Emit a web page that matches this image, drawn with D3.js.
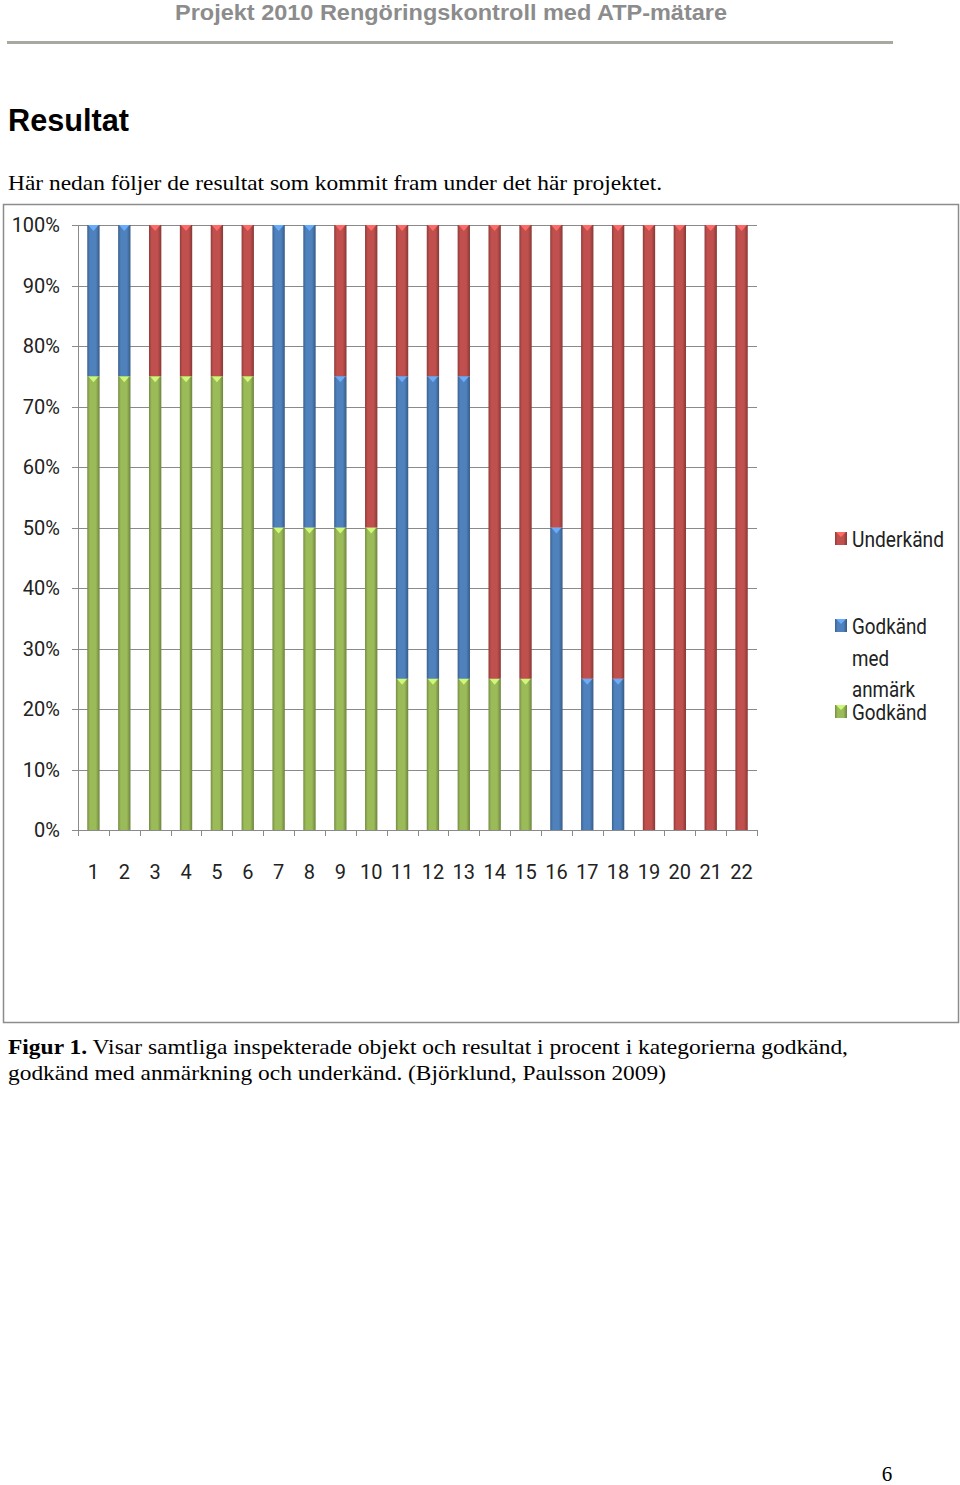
<!DOCTYPE html>
<html>
<head>
<meta charset="utf-8">
<script src="https://cdn.jsdelivr.net/npm/d3@7"></script>
<style>
  body { margin: 0; background: #fff; }
</style>
</head>
<body>
<svg id="page" width="960" height="1485"></svg>
<script>
// data (percent per object)
const objects = ["1","2","3","4","5","6","7","8","9","10","11","12","13","14","15","16","17","18","19","20","21","22"];
const godkand   = [75,75,75,75,75,75,50,50,50,50,25,25,25,25,25, 0, 0, 0, 0, 0, 0, 0];
const anmarkning = [25,25, 0, 0, 0, 0,50,50,25, 0,50,50,50, 0, 0,50,25,25, 0, 0, 0, 0];
const underkand = [ 0, 0,25,25,25,25, 0, 0,25,50,25,25,25,75,75,50,75,75,100,100,100,100];
const yTicks = [0,10,20,30,40,50,60,70,80,90,100];
const seriesColors = ["#9bbb59", "#4f81bd", "#c0504d"];

const svg = d3.select("#page");
const serif = "Liberation Serif, Times New Roman, serif";
const sans = "Liberation Sans, Arial, sans-serif";
const font = "Roboto, DejaVu Sans Condensed, sans-serif";

// text squeezed to the width it has in the scan
function fitText(sel, w) {
  return sel.attr("textLength", w).attr("lengthAdjust", "spacingAndGlyphs");
}

// page header
fitText(svg.append("text")
   .attr("x", 175).attr("y", 20)
   .attr("font-family", sans)
   .attr("font-weight", "bold")
   .attr("font-size", 22)
   .attr("fill", "#8c8c8c")
   .text("Projekt 2010 Rengöringskontroll med ATP-mätare"), 552);
svg.append("rect")
   .attr("x", 7).attr("y", 41).attr("width", 886).attr("height", 3)
   .attr("fill", "#a8a8a0");

fitText(svg.append("text")
   .attr("x", 8).attr("y", 131)
   .attr("font-family", sans)
   .attr("font-weight", "bold")
   .attr("font-size", 31)
   .text("Resultat"), 121);

fitText(svg.append("text")
   .attr("x", 8).attr("y", 190)
   .attr("font-family", serif)
   .attr("font-size", 22)
   .text("Här nedan följer de resultat som kommit fram under det här projektet."), 654);

// chart frame
svg.append("rect")
   .attr("x", 3.5).attr("y", 204.5).attr("width", 955).attr("height", 818)
   .attr("fill", "none").attr("stroke", "#8c8c8c").attr("stroke-width", 1.5);

// gradients for the bevelled bars
const defs = svg.append("defs");
seriesColors.forEach((c, i) => {
  let g = defs.append("linearGradient").attr("id", "grad" + i)
              .attr("x1", 0).attr("x2", 1).attr("y1", 0).attr("y2", 0);
  g.append("stop").attr("offset", "0%").attr("stop-color", d3.color(c).darker(0.8));
  g.append("stop").attr("offset", "22%").attr("stop-color", c);
  g.append("stop").attr("offset", "70%").attr("stop-color", c);
  g.append("stop").attr("offset", "100%").attr("stop-color", d3.color(c).darker(1));
});

const plotLeft = 78, plotRight = 757, plotTop = 225, plotBottom = 830;

const x = d3.scaleBand().domain(objects).range([plotLeft, plotRight])
            .paddingInner(0.6).paddingOuter(0.3);
const y = d3.scaleLinear().domain([0, 100]).range([plotBottom, plotTop]);
const step = x.step();

// gridlines
svg.append("g")
   .selectAll("line")
   .data(yTicks)
   .enter()
   .append("line")
   .attr("x1", plotLeft - 6).attr("x2", plotRight)
   .attr("y1", d => Math.round(y(d)) + 0.5)
   .attr("y2", d => Math.round(y(d)) + 0.5)
   .attr("stroke", "#8a8a8a").attr("stroke-width", 1);

svg.append("line")
   .attr("x1", plotLeft + 0.5).attr("x2", plotLeft + 0.5)
   .attr("y1", plotTop).attr("y2", plotBottom)
   .attr("stroke", "#8a8a8a");

// y labels
svg.append("g")
   .selectAll("text")
   .data(yTicks)
   .enter()
   .append("text")
   .attr("x", 60)
   .attr("y", d => y(d) + 7)
   .attr("text-anchor", "end")
   .attr("font-family", font)
   .attr("font-size", 20)
   .attr("fill", "#222")
   .text(d => d + "%");

// x axis ticks between categories
svg.append("g")
   .selectAll("line")
   .data(objects.concat(["end"]))
   .enter()
   .append("line")
   .attr("x1", (d, i) => Math.round(plotLeft + i * step) + 0.5)
   .attr("x2", (d, i) => Math.round(plotLeft + i * step) + 0.5)
   .attr("y1", plotBottom).attr("y2", plotBottom + 6)
   .attr("stroke", "#8a8a8a");

svg.append("g")
   .selectAll("text")
   .data(objects)
   .enter()
   .append("text")
   .attr("x", d => x(d) + x.bandwidth() / 2)
   .attr("y", 879)
   .attr("text-anchor", "middle")
   .attr("font-family", font)
   .attr("font-size", 20)
   .attr("fill", "#222")
   .text(d => d);

// stacked bars
const table = objects.map((o, i) => ({ name: o, g: godkand[i], a: anmarkning[i], u: underkand[i] }));
const stacked = d3.stack().keys(["g", "a", "u"])(table);

stacked.forEach((layer, si) => {
  let grp = svg.append("g");
  let segs = layer.filter(d => d[1] - d[0] > 0);
  grp.selectAll("rect")
     .data(segs)
     .enter()
     .append("rect")
     .attr("x", d => x(d.data.name))
     .attr("y", d => y(d[1]))
     .attr("width", x.bandwidth())
     .attr("height", d => y(d[0]) - y(d[1]))
     .attr("fill", "url(#grad" + si + ")");
  // small light bevel triangle at the top of each segment
  grp.selectAll("path")
     .data(segs)
     .enter()
     .append("path")
     .attr("d", d => {
       let x0 = x(d.data.name), w = x.bandwidth(), yt = y(d[1]);
       return "M" + (x0 + 1) + "," + yt + "L" + (x0 + w - 1) + "," + yt + "L" + (x0 + w / 2) + "," + (yt + 6) + "Z";
     })
     .attr("fill", d3.color(seriesColors[si]).brighter(0.8));
});

// legend
const legendItems = [
  { s: 2, lines: ["Underkänd"], widths: [92], y: 539 },
  { s: 1, lines: ["Godkänd", "med", "anmärk"], widths: [75, 37, 63], y: 626 },
  { s: 0, lines: ["Godkänd"], widths: [75], y: 712 }
];
legendItems.forEach(item => {
  let c = seriesColors[item.s];
  svg.append("rect")
     .attr("x", 835).attr("y", item.y - 7).attr("width", 12).attr("height", 13)
     .attr("fill", "url(#grad" + item.s + ")");
  svg.append("path")
     .attr("d", "M836," + (item.y - 7) + "L846," + (item.y - 7) + "L841," + (item.y - 2) + "Z")
     .attr("fill", d3.color(c).brighter(0.8));
  item.lines.forEach((t, k) => {
    fitText(svg.append("text")
       .attr("x", 852).attr("y", item.y + 8 + k * 31.5)
       .attr("font-family", font)
       .attr("font-size", 22)
       .attr("fill", "#222")
       .text(t), item.widths[k]);
  });
});

// caption
const cap = svg.append("text")
   .attr("x", 8).attr("y", 1054)
   .attr("font-family", serif)
   .attr("font-size", 22);
fitText(cap, 840);
cap.append("tspan").attr("font-weight", "bold").text("Figur 1.");
cap.append("tspan").text(" Visar samtliga inspekterade objekt och resultat i procent i kategorierna godkänd,");
fitText(svg.append("text")
   .attr("x", 8).attr("y", 1080)
   .attr("font-family", serif)
   .attr("font-size", 22)
   .text("godkänd med anmärkning och underkänd. (Björklund, Paulsson 2009)"), 658);

svg.append("text")
   .attr("x", 887).attr("y", 1481)
   .attr("text-anchor", "middle")
   .attr("font-family", serif)
   .attr("font-size", 21)
   .text("6");
</script>
</body>
</html>
